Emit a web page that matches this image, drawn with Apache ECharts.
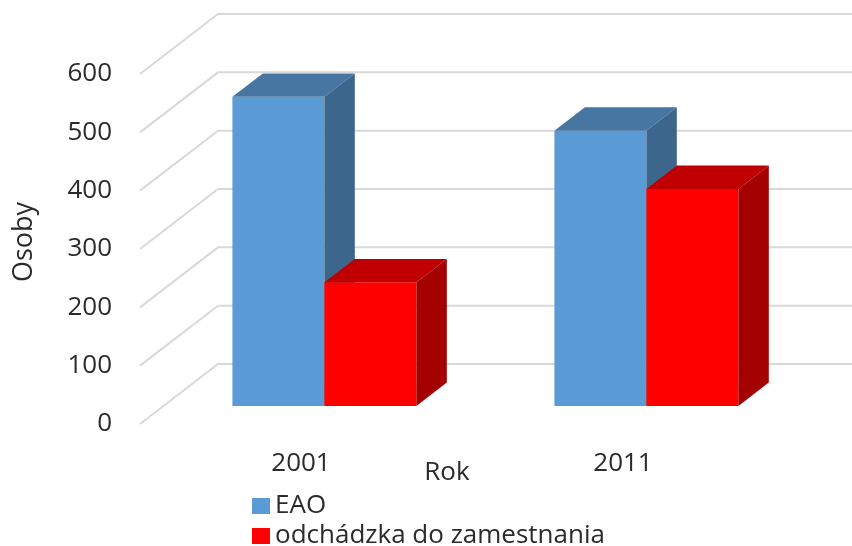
<!DOCTYPE html>
<html>
<head>
<meta charset="utf-8">
<script src="https://cdn.jsdelivr.net/npm/echarts@6/dist/echarts.min.js"></script>
<style>html,body{margin:0;padding:0;background:#fff}#c{width:852px;height:546px}</style>
</head>
<body>
<div id="c"></div>
<script>
const categories = ['2001', '2011'];
const eaoValues = [530, 472];
const odchValues = [212, 372];
const yTicks = [0, 100, 200, 300, 400, 500, 600];
const seriesNames = ['EAO', 'odchádzka do zamestnania'];

const DEPTH = [78, -60];
const BAR_FRONT = 0.3;
const BAR_DEPTH = 0.39;
const BAR_W = 0.2857;
const FONT = '"Open Sans", sans-serif';
const TXT = '#2b2b2b';

const colors = [
  { front: '#5B9BD5', top: '#4776A2', side: '#3C668B' },
  { front: '#FF0000', top: '#C00000', side: '#A40000' }
];

function barRender(si) {
  return function (params, api) {
    const cat = api.value(0), val = api.value(1);
    const base = api.coord([cat, 0]);
    const top = api.coord([cat, val]);
    const band = api.size([1, 0])[0];
    const w = band * BAR_W;
    const ox = DEPTH[0] * BAR_FRONT, oy = DEPTH[1] * BAR_FRONT;
    const x0 = base[0] + (si === 0 ? -w : 0) + ox;
    const x1 = x0 + w;
    const yb = base[1] + oy, yt = top[1] + oy;
    const dx = DEPTH[0] * BAR_DEPTH, dy = DEPTH[1] * BAR_DEPTH;
    const c = colors[si];
    return {
      type: 'group',
      children: [
        { type: 'polygon', shape: { points: [[x0, yt], [x1, yt], [x1, yb], [x0, yb]] }, style: { fill: c.front } },
        { type: 'polygon', shape: { points: [[x0, yt], [x0 + dx, yt + dy], [x1 + dx, yt + dy], [x1, yt]] }, style: { fill: c.top } },
        { type: 'polygon', shape: { points: [[x1, yt], [x1 + dx, yt + dy], [x1 + dx, yb + dy], [x1, yb]] }, style: { fill: c.side } }
      ]
    };
  };
}

function gridRender(params, api) {
  const v = api.value(1);
  const cs = params.coordSys;
  const y = api.coord([0, v])[1];
  const fx = cs.x, fy = y;
  const bx = fx + DEPTH[0], by = fy + DEPTH[1];
  const ex = cs.x + cs.width + DEPTH[0] + 20;
  return {
    type: 'polyline',
    shape: { points: [[fx, fy], [bx, by], [ex, by]] },
    style: { stroke: '#D9D9D9', lineWidth: 2, fill: null }
  };
}

const legendCommon = {
  orient: 'vertical',
  left: 247,
  itemWidth: 18,
  itemHeight: 16,
  icon: 'rect',
  textStyle: { color: TXT, fontSize: 26, fontFamily: FONT }
};

const chart = echarts.init(document.getElementById('c'), null, { renderer: 'canvas' });
chart.setOption({
  animation: false,
  backgroundColor: '#ffffff',
  grid: { left: 140, right: 68, top: 74, bottom: 122 },
  xAxis: {
    type: 'category',
    data: categories,
    axisLine: { show: false },
    axisTick: { show: false },
    axisLabel: { color: TXT, fontSize: 26, fontFamily: FONT, margin: 27 },
    name: 'Rok',
    nameLocation: 'middle',
    nameGap: 36,
    nameMoveOverlap: false,
    nameTextStyle: { color: TXT, fontSize: 26, fontFamily: FONT, padding: [0, 30, 0, 0] }
  },
  yAxis: {
    type: 'value',
    min: 0,
    max: 600,
    interval: 100,
    axisLine: { show: false },
    axisTick: { show: false },
    splitLine: { show: false },
    axisLabel: { color: TXT, fontSize: 26, fontFamily: FONT, margin: 28 },
    name: 'Osoby',
    nameLocation: 'middle',
    nameRotate: 90,
    nameGap: 102,
    nameMoveOverlap: false,
    nameTextStyle: { color: TXT, fontSize: 27, fontFamily: FONT, padding: [0, 0, 0, 14] }
  },
  legend: [
    Object.assign({ data: [seriesNames[0]], top: 488 }, legendCommon),
    Object.assign({ data: [seriesNames[1]], top: 518 }, legendCommon)
  ],
  series: [
    {
      type: 'custom',
      name: 'grid',
      renderItem: gridRender,
      data: yTicks.map(v => [0, v]),
      encode: { x: 0, y: 1 },
      silent: true,
      z: 1
    },
    {
      type: 'custom',
      name: seriesNames[0],
      renderItem: barRender(0),
      itemStyle: { color: colors[0].front },
      data: categories.map((c, i) => [i, eaoValues[i]]),
      encode: { x: 0, y: 1 },
      z: 2
    },
    {
      type: 'custom',
      name: seriesNames[1],
      renderItem: barRender(1),
      itemStyle: { color: colors[1].front },
      data: categories.map((c, i) => [i, odchValues[i]]),
      encode: { x: 0, y: 1 },
      z: 3
    }
  ]
});
</script>
</body>
</html>
